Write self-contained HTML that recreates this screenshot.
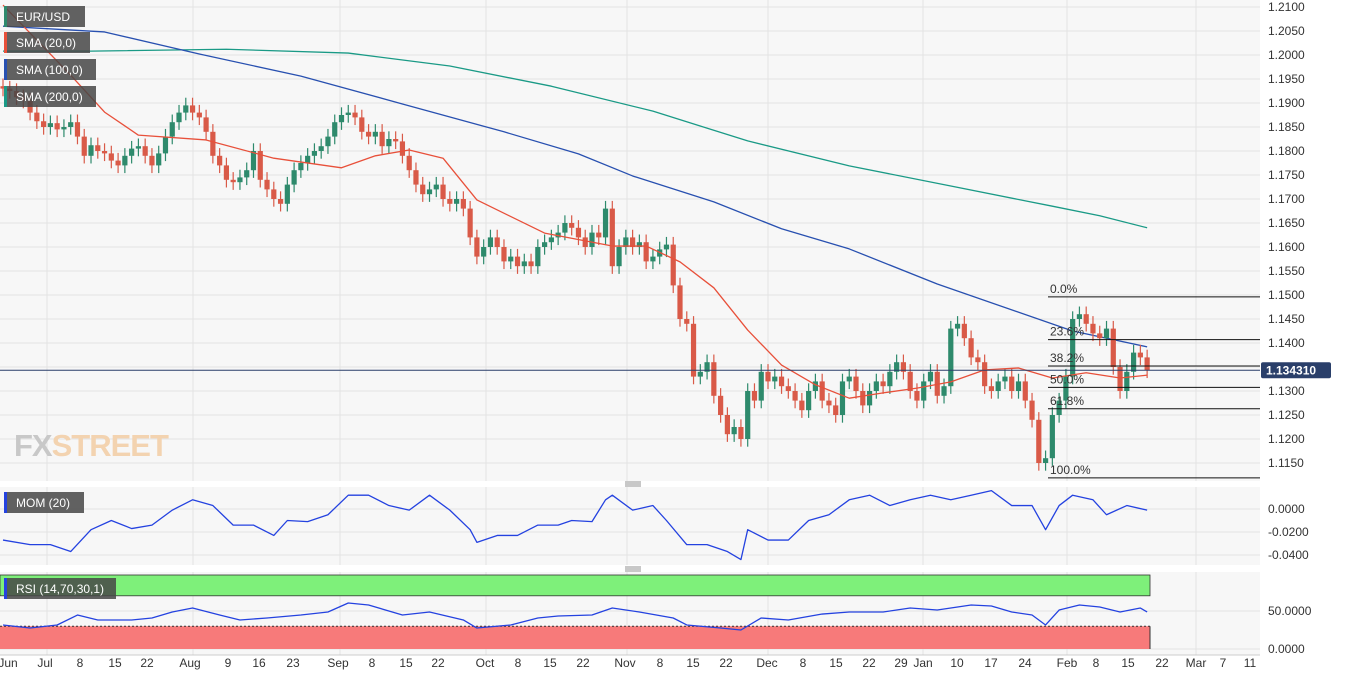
<!DOCTYPE html>
<html><head><meta charset="utf-8"><style>
body{margin:0;width:1346px;height:676px;background:#fff;overflow:hidden;font-family:"Liberation Sans",sans-serif}
svg text{font-family:"Liberation Sans",sans-serif}
</style></head><body>
<svg id="c" width="1346" height="676" xmlns="http://www.w3.org/2000/svg"></svg>
<script>
const closes=[1.1930,1.1925,1.1912,1.1905,1.1880,1.1862,1.1850,1.1858,1.1845,1.1850,
1.1860,1.1830,1.1790,1.1812,1.1800,1.1795,1.1780,1.1770,1.1790,1.1805,
1.1810,1.1790,1.1770,1.1795,1.1830,1.1860,1.1880,1.1895,1.1880,1.1870,
1.1840,1.1790,1.1770,1.1740,1.1735,1.1745,1.1760,1.1800,1.1740,1.1720,
1.1700,1.1690,1.1730,1.1760,1.1775,1.1790,1.1800,1.1810,1.1830,1.1860,
1.1875,1.1880,1.1870,1.1840,1.1830,1.1840,1.1810,1.1825,1.1820,1.1790,
1.1760,1.1730,1.1710,1.1720,1.1730,1.1700,1.1690,1.1700,1.1680,1.1620,
1.1580,1.1600,1.1620,1.1600,1.1570,1.1580,1.1560,1.1570,1.1560,1.1600,
1.1610,1.1620,1.1630,1.1650,1.1640,1.1620,1.1600,1.1630,1.1620,1.1680,
1.1560,1.1600,1.1620,1.1600,1.1610,1.1570,1.1580,1.1595,1.1605,1.1520,
1.1450,1.1440,1.1330,1.1340,1.1360,1.1290,1.1250,1.1210,1.1225,1.1200,
1.1300,1.1280,1.1340,1.1320,1.1330,1.1310,1.1300,1.1280,1.1260,1.1300,
1.1320,1.1280,1.1270,1.1250,1.1320,1.1330,1.1300,1.1270,1.1300,1.1320,
1.1310,1.1340,1.1360,1.1340,1.1300,1.1280,1.1320,1.1340,1.1290,1.1310,
1.1430,1.1440,1.1410,1.1370,1.1360,1.1310,1.1300,1.1320,1.1330,1.1300,
1.1320,1.1280,1.1240,1.1150,1.1160,1.1250,1.1280,1.1330,1.1450,1.1460,
1.1440,1.1420,1.1410,1.1430,1.1350,1.1300,1.1340,1.1380,1.1370,1.1343];
const firstOpen=1.1935;
const sma20Idx=[0,10,15,20,30,40,50,55,60,65,70,80,90,95,100,105,110,115,120,125,130,135,140,145,150,155,160,165,169];
const sma20Val=[1.2104,1.1958,1.1881,1.1833,1.1823,1.1785,1.1765,1.1790,1.1802,1.1785,1.1698,1.1629,1.1602,1.1602,1.1569,1.1515,1.1427,1.1354,1.1313,1.1285,1.1296,1.1306,1.1319,1.1344,1.1348,1.1327,1.1338,1.1327,1.1333];
const sma100Idx=[0,15,29,44,59,74,85,93,105,115,125,138,158,169];
const sma100Val=[1.2060,1.2048,1.2002,1.1956,1.1898,1.1840,1.1794,1.1748,1.1694,1.1638,1.1596,1.1523,1.1425,1.1392];
const sma200Idx=[0,13,33,51,66,81,96,110,125,140,155,162,169];
const sma200Val=[1.2008,1.2008,1.2012,1.2004,1.1977,1.1935,1.1883,1.1821,1.1769,1.1727,1.1685,1.1665,1.1640];
const momIdx=[0,4,7,10,13,16,19,22,25,28,31,34,37,40,42,45,48,51,54,57,60,63,66,69,70,73,76,79,82,84,87,89,90,93,96,98,101,104,107,109,110,113,116,119,122,125,128,131,134,137,140,143,146,149,152,154,156,158,161,163,166,169];
const momVal=[-0.027,-0.031,-0.031,-0.037,-0.018,-0.010,-0.017,-0.014,-0.001,0.008,0.003,-0.014,-0.014,-0.023,-0.010,-0.011,-0.005,0.012,0.012,0.003,-0.001,0.012,-0.001,-0.018,-0.029,-0.023,-0.023,-0.014,-0.014,-0.010,-0.011,0.008,0.012,-0.001,0.003,-0.010,-0.031,-0.031,-0.037,-0.044,-0.018,-0.027,-0.027,-0.010,-0.005,0.008,0.012,0.003,0.008,0.012,0.008,0.012,0.016,0.003,0.003,-0.018,0.003,0.012,0.008,-0.005,0.003,-0.001];
const rsiIdx=[0,4,8,11,14,19,22,25,28,32,35,39,44,48,51,54,59,63,68,70,75,79,82,87,90,94,99,101,106,109,112,116,121,125,130,134,138,143,146,149,152,154,156,159,162,165,168,169];
const rsiVal=[31.6,27.6,31.6,44.7,38.2,38.2,40.8,48.7,53.9,44.7,38.2,40.8,44.7,48.7,60.5,57.9,44.7,48.7,38.2,27.6,31.6,40.8,43.4,44.7,53.9,48.7,40.8,31.6,27.6,25,40.8,38.2,46,48.7,48.7,53.9,51.3,57.9,56.6,48.7,44.7,31.6,51.3,57.9,55.3,48.7,53.9,48.7];
const priceTicks=[1.21,1.205,1.2,1.195,1.19,1.185,1.18,1.175,1.17,1.165,1.16,1.155,1.15,1.145,1.14,1.135,1.13,1.125,1.12,1.115];
const fibLevels=[0,23.6,38.2,50,61.8,100];
const fibHigh=1.1496,fibLow=1.1119;
const lastPrice=1.134310;
const xLabels=["Jun","Jul","8","15","22","Aug","9","16","23","Sep","8","15","22","Oct","8","15","22","Nov","8","15","22","Dec","8","15","22","29","Jan","10","17","24","Feb","8","15","22","Mar","7","11"];
const xLabelPos=[8,45,80,115,147,190,228,259,293,338,372,406,438,485,518,550,583,625,660,693,726,767,803,836,869,901,923,957,991,1025,1067,1096,1128,1162,1196,1223,1250];
const monthLines=[47,193,340,486,627,768,923,1067,1196];

const NS="http://www.w3.org/2000/svg",svg=document.getElementById('c');
function el(t,a,p){const e=document.createElementNS(NS,t);for(const k in a)e.setAttribute(k,a[k]);(p||svg).appendChild(e);return e;}
const X=i=>3+i*6.77;
const Y=p=>7+(1.21-p)/0.001*4.8;
const YM=v=>509-v/0.02*23;
const YR=v=>649-v*0.76;
const PW=1260;
let g;
g=el('rect',{x:0,y:0,width:PW,height:481,fill:'#f7f7f7'});
g=el('rect',{x:0,y:487,width:PW,height:78,fill:'#f7f7f7'});
g=el('rect',{x:0,y:572,width:PW,height:83,fill:'#f7f7f7'});
priceTicks.forEach(p=>{el('line',{x1:0,x2:PW,y1:Y(p),y2:Y(p),stroke:'#e3e3e3'});
 const t=el('text',{x:1268,y:Y(p)+4,'font-size':12,fill:'#333'});t.textContent=p.toFixed(4);});
monthLines.forEach(x=>{[[0,481],[487,565],[572,655]].forEach(r=>el('line',{x1:x,x2:x,y1:r[0],y2:r[1],stroke:'#e3e3e3'}));});
[0,-0.02,-0.04].forEach(v=>{el('line',{x1:0,x2:PW,y1:YM(v),y2:YM(v),stroke:'#e3e3e3'});const t=el('text',{x:1268,y:YM(v)+4,'font-size':12,fill:'#333'});t.textContent=(v===0?'0.0000':v.toFixed(4));});
[50,0].forEach(v=>{el('line',{x1:0,x2:PW,y1:YR(v),y2:YR(v),stroke:'#e3e3e3'});const t=el('text',{x:1268,y:YR(v)+4,'font-size':12,fill:'#333'});t.textContent=v.toFixed(4);});
g=el('text',{x:14,y:456,'font-size':31,'font-weight':'bold',fill:'#c8c8c8','letter-spacing':'-1'});g.innerHTML='FX<tspan fill="#f3d3b0">STREET</tspan>';
function line(idx,val,col,name,yf){const pts=idx.map((i,k)=>X(i)+','+yf(val[k])).join(' ');const l=el('polyline',{points:pts,fill:'none',stroke:col,'stroke-width':1.3,'stroke-linejoin':'round'});}
line(sma200Idx,sma200Val,'#1a9a86','sma-200-line',Y);
line(sma100Idx,sma100Val,'#2850b0','sma-100-line',Y);
closes.forEach((c,i)=>{const o=i?closes[i-1]:firstOpen;const up=c>=o;const col=up?'#2e8a6c':'#d95a48';
 const hi=Math.max(o,c)+0.0016,lo=Math.min(o,c)-0.0016;
 const w=el('line',{x1:X(i),x2:X(i),y1:Y(hi),y2:Y(lo),stroke:col,'stroke-width':1.2});
 const b=el('rect',{x:X(i)-2.6,y:Math.min(Y(o),Y(c)),width:5.2,height:Math.max(1.2,Math.abs(Y(o)-Y(c))),fill:col});});
line(sma20Idx,sma20Val,'#e8503a','sma-20-line',Y);
fibLevels.forEach(f=>{const p=fibHigh-(fibHigh-fibLow)*f/100;const y=Y(p);
 const l=el('line',{x1:1048,x2:PW,y1:y,y2:y,stroke:'#111','stroke-width':1});
 const t=el('text',{x:1050,y:y-4,'font-size':12,fill:'#333'});t.textContent=f.toFixed(1)+'%';});
g=el('line',{x1:0,x2:PW,y1:Y(lastPrice),y2:Y(lastPrice),stroke:'#2a3f6a','stroke-width':1});
g=el('rect',{x:1261,y:Y(lastPrice)-8,width:70,height:16,fill:'#2a3f6a',rx:2});
g=el('text',{x:1266,y:Y(lastPrice)+4,'font-size':12,'font-weight':'bold',fill:'#fff'});g.textContent=lastPrice.toFixed(6);
line(momIdx,momVal,'#2442e0','mom-line',YM);
g=el('rect',{x:0,y:YR(100)+2,width:1150,height:YR(70)-YR(100)-2,fill:'#7ef07a'});
g=el('rect',{x:0,y:YR(30),width:1150,height:YR(0)-YR(30),fill:'#f77a7a'});
el('rect',{x:0,y:YR(100)+2,width:1150,height:YR(70)-YR(100)-2,fill:'none',stroke:'#333','stroke-width':0.8});
el('line',{x1:0,x2:1150,y1:YR(30),y2:YR(30),stroke:'#333','stroke-dasharray':'2,2'});
el('line',{x1:1150,x2:1150,y1:YR(30),y2:YR(0),stroke:'#333'});
line(rsiIdx,rsiVal,'#2442e0','rsi-line',YR);
[484,569].forEach(y=>{el('rect',{x:0,y:y-2,width:1346,height:3,fill:'#fff'});for(let k=0;k<3;k++)el('line',{x1:625,x2:641,y1:y-2+k*2,y2:y-2+k*2,stroke:'#777','stroke-width':0.8});});
el('line',{x1:0,x2:PW,y1:655,y2:655,stroke:'#ccc'});
xLabels.forEach((s,k)=>{const t=el('text',{x:xLabelPos[k],y:667,'font-size':12,fill:'#333','text-anchor':'middle'});t.textContent=s;});
function tag(x,y,w,txt,col,name){const gg=el('g',{});
 el('rect',{x:x,y:y,width:w,height:21,fill:'rgba(70,70,70,0.85)'},gg);el('rect',{x:x,y:y,width:3,height:21,fill:col},gg);
 const t=el('text',{x:x+12,y:y+15,'font-size':12,fill:'#fff'},gg);t.textContent=txt;}
tag(4,6,81,'EUR/USD','#2e8a6c','symbol-label');
tag(4,32,86,'SMA (20,0)','#e8503a','sma-20-legend');
tag(4,59,92,'SMA (100,0)','#2850b0','sma-100-legend');
tag(4,86,92,'SMA (200,0)','#1a9a86','sma-200-legend');
tag(4,492,80,'MOM (20)','#2442e0','mom-legend');
tag(4,578,112,'RSI (14,70,30,1)','#2442e0','rsi-legend');
</script>
</body></html>
